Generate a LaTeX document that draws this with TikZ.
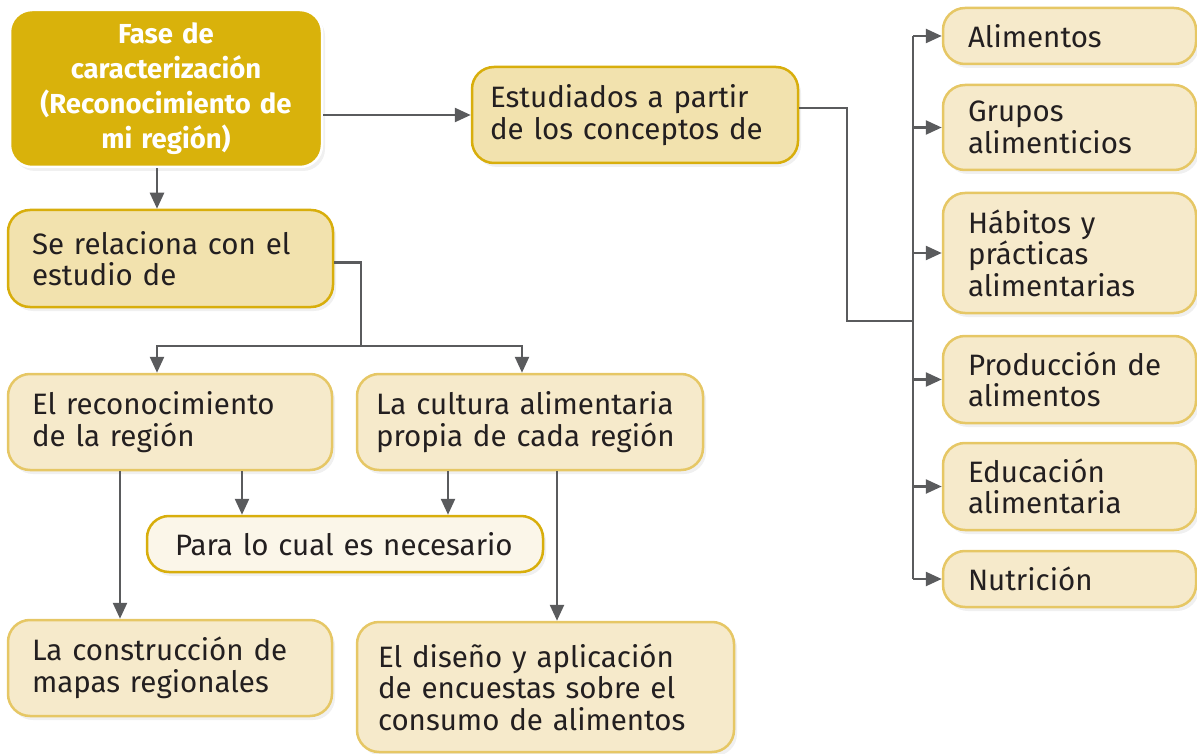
\documentclass[tikz,border=0pt]{standalone}
\usepackage{fontspec}
\setmainfont[WordSpace=0.75]{Fira Sans}
\usetikzlibrary{arrows.meta,shadows,calc}
\definecolor{txt}{HTML}{231F20}
\definecolor{goldfill}{HTML}{D9B20B}
\definecolor{midfill}{HTML}{F2E2AE}
\definecolor{midline}{HTML}{D8AE0C}
\definecolor{lightfill}{HTML}{F6EACB}
\definecolor{lightline}{HTML}{E6C765}
\definecolor{palefill}{HTML}{FBF6E9}
\definecolor{conn}{HTML}{5A5B5D}
\begin{document}
\begin{tikzpicture}[x=1pt,y=-1pt,
  base/.style={rounded corners=22pt, line width=2.5pt, text=txt, align=left,
    font=\fontsize{29.5}{31.5}\selectfont, inner ysep=0pt,
    drop shadow={opacity=0.12,shadow xshift=3pt,shadow yshift=-4pt}},
  mainbox/.style={base, fill=goldfill, draw=white, text=white, align=center,
    font=\bfseries\fontsize{27.5}{35}\selectfont},
  midbox/.style={base, fill=midfill, draw=midline},
  lightbox/.style={base, fill=lightfill, draw=lightline},
  palebox/.style={base, fill=palefill, draw=midline},
  line/.style={draw=conn, line width=2.5pt},
  arr/.style={line, -{Triangle[length=16pt,width=14pt]}}
]
\useasboundingbox (0,0) rectangle (1197,754);

\node[mainbox, minimum width=312pt, minimum height=157pt, text width=300pt, inner xsep=6pt] (fase) at (166,88.5)
  {Fase de\\caracterización\\(Reconocimiento de\\mi región)};
\node[midbox, minimum height=96pt, inner xsep=18pt, text width=290pt] (est) at (635,115)
  {Estudiados a partir\\de los conceptos de};
\node[midbox, minimum height=97pt, inner xsep=24pt, text width=277pt] (rel) at (170.5,258.5)
  {Se relaciona con el\\estudio de};
\node[lightbox, minimum height=96pt, inner xsep=24pt, text width=276pt] (rec) at (170,422)
  {El reconocimiento\\de la región};
\node[lightbox, minimum height=96pt, inner xsep=19pt, text width=308pt] (cul) at (530,422)
  {La cultura alimentaria\\propia de cada región};
\node[palebox, minimum height=56pt, inner xsep=28pt, text width=340pt] (para) at (345,544)
  {Para lo cual es necesario};
\node[lightbox, minimum height=96pt, inner xsep=24pt, text width=276pt] (con) at (170,668)
  {La construcción de\\mapas regionales};
\node[lightbox, minimum height=130pt, inner xsep=21pt, text width=335pt] (dis) at (545.5,687)
  {El diseño y aplicación\\de encuestas sobre el\\consumo de alimentos};

\node[lightbox, minimum height=56pt, inner xsep=25pt, text width=203pt] (ali) at (1069.5,36) {Alimentos};
\node[lightbox, minimum height=85pt, inner xsep=25pt, text width=203pt] (gru) at (1069.5,127.5) {Grupos\\alimenticios};
\node[lightbox, minimum height=120pt, inner xsep=25pt, text width=203pt] (hab) at (1069.5,253) {Hábitos y\\prácticas\\alimentarias};
\node[lightbox, minimum height=87pt, inner xsep=25pt, text width=203pt] (pro) at (1069.5,379.5) {Producción de\\alimentos};
\node[lightbox, minimum height=87pt, inner xsep=25pt, text width=203pt] (edu) at (1069.5,486.5) {Educación\\alimentaria};
\node[lightbox, minimum height=56pt, inner xsep=25pt, text width=203pt] (nut) at (1069.5,579) {Nutrición};

\coordinate (bend) at (847,321);
\coordinate (tr) at (913,321);
\coordinate (split) at (361,346);

\draw[arr] (fase.east |- est.west) -- (est.west);
\draw[arr] ([xshift=-9pt]fase.south) -- ([xshift=-9pt]fase.south |- rel.north);

\draw[line] ([yshift=7pt]est.east) -| (bend) -- (tr);
\draw[line] (tr |- ali.west) -- (tr |- nut.west);
\foreach \b in {ali,gru,hab,pro,edu,nut}
  \draw[arr] (tr |- \b.west) -- (\b.west);

\draw[line] ([yshift=-4pt]rel.east) -| (split);
\draw[arr] (split) -| ([xshift=-13pt]rec.north);
\draw[arr] (split) -| ([xshift=-8pt]cul.north);

\draw[arr] ([xshift=-50pt]rec.south) -- ([xshift=-50pt]rec.south |- con.north);
\draw[arr] ([xshift=72pt]rec.south) -- ([xshift=72pt]rec.south |- para.north);
\draw[arr] ([xshift=-82pt]cul.south) -- ([xshift=-82pt]cul.south |- para.north);
\draw[arr] ([xshift=27pt]cul.south) -- ([xshift=27pt]cul.south |- dis.north);
\end{tikzpicture}
\end{document}
